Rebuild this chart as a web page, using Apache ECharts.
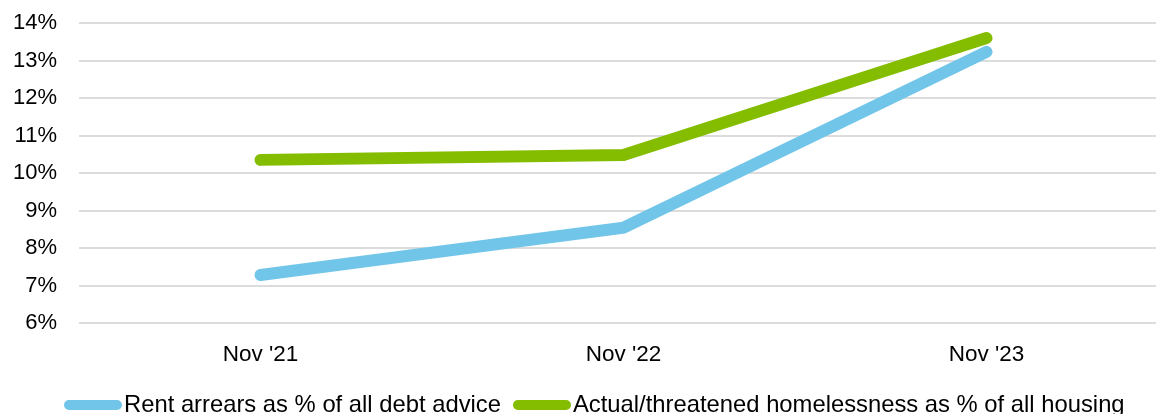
<!DOCTYPE html>
<html>
<head>
<meta charset="utf-8">
<title>Rent arrears and homelessness</title>
<script src="https://cdn.jsdelivr.net/npm/echarts@6/dist/echarts.min.js"></script>
<style>
  html, body { margin: 0; padding: 0; background: #ffffff; }
  #chart { width: 1156px; height: 414px; }
</style>
</head>
<body>
<div id="chart"></div>
<script>
// Periods on the category axis
const categories = ["Nov '21", "Nov '22", "Nov '23"];

// Shares, in percent
const rentArrears = [7.28, 8.54, 13.23];
const homelessness = [10.35, 10.48, 13.6];

// Series names shown in the legend
const seriesNames = [
  'Rent arrears as % of all debt advice',
  'Actual/threatened homelessness as % of all housing'
];

// Value axis range
const yMin = 6;
const yMax = 14;
const yStep = 1;

const BLUE = '#71C5E8';
const GREEN = '#84BD00';
const FONT = '"Liberation Sans", Arial, sans-serif';

const chart = echarts.init(document.getElementById('chart'), null, { renderer: 'canvas' });

// Capsule-shaped legend swatch
const capsule = 'path://M5,0 L53,0 A5,5 0 0 1 53,10 L5,10 A5,5 0 0 1 5,0 Z';

chart.setOption({
  animation: false,
  backgroundColor: '#ffffff',
  textStyle: { fontFamily: FONT },
  grid: {
    left: 79,
    right: -12,
    top: 23,
    bottom: 91,
    containLabel: false,
    outerBoundsMode: 'none'
  },
  legend: {
    left: 59,
    top: 388,
    itemGap: 12,
    itemWidth: 58,
    itemHeight: 10,
    textStyle: { fontFamily: FONT, fontSize: 23.8, color: '#000000', padding: [0, 0, 0, -3] },
    data: [
      { name: seriesNames[0], icon: capsule, itemStyle: { color: BLUE } },
      { name: seriesNames[1], icon: capsule, itemStyle: { color: GREEN } }
    ]
  },
  xAxis: {
    type: 'category',
    data: categories,
    boundaryGap: true,
    axisLine: { show: false },
    axisTick: { show: false },
    axisLabel: { fontFamily: FONT, fontSize: 22.5, color: '#000000', margin: 20 }
  },
  yAxis: {
    type: 'value',
    min: yMin,
    max: yMax,
    interval: yStep,
    axisLine: { show: false },
    axisTick: { show: false },
    axisLabel: {
      fontFamily: FONT,
      fontSize: 22,
      color: '#000000',
      margin: 22,
      formatter: '{value}%'
    },
    splitLine: { show: true, lineStyle: { color: '#DCDCDC', width: 2 } }
  },
  series: [
    {
      name: seriesNames[0],
      type: 'line',
      data: rentArrears,
      symbol: 'none',
      color: BLUE,
      lineStyle: { color: BLUE, width: 12, cap: 'round', join: 'miter' }
    },
    {
      name: seriesNames[1],
      type: 'line',
      data: homelessness,
      symbol: 'none',
      color: GREEN,
      lineStyle: { color: GREEN, width: 12, cap: 'round', join: 'miter' }
    }
  ]
});
</script>
</body>
</html>
